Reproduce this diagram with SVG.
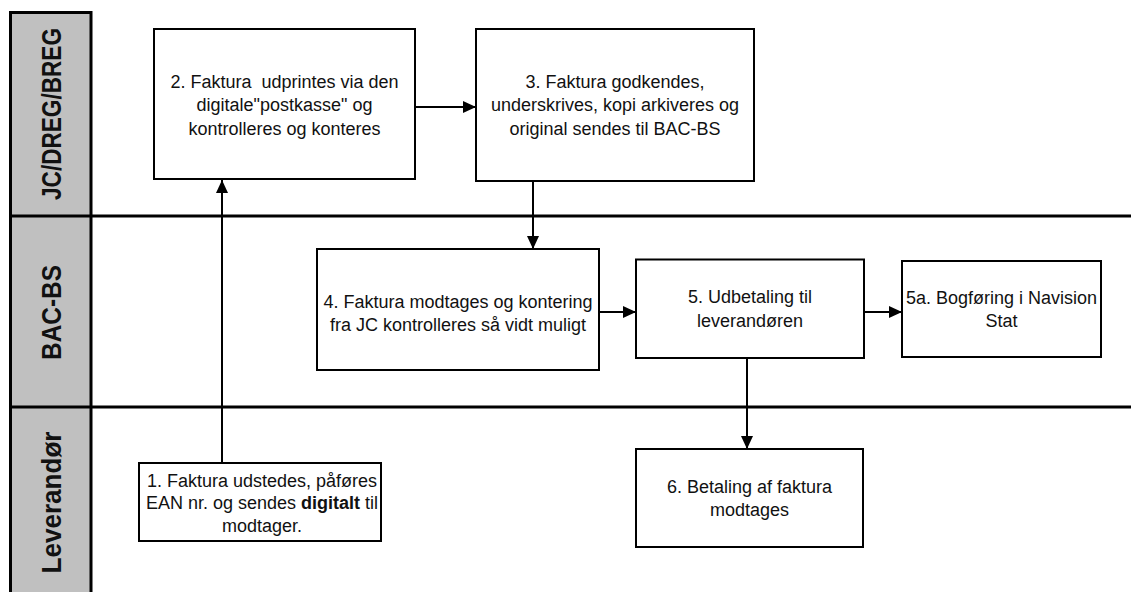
<svg xmlns="http://www.w3.org/2000/svg" width="1131" height="592" viewBox="0 0 1131 592">
<style>
  .box { fill: #ffffff; stroke: #000000; stroke-width: 2; }
  .t { font-family: "Liberation Sans", Arial, sans-serif; font-size: 18px; fill: #111111; text-anchor: middle; }
  .lane { font-family: "Liberation Sans", Arial, sans-serif; font-size: 28px; font-weight: bold; fill: #111111; text-anchor: middle; }
  .conn { stroke: #000000; stroke-width: 2; fill: none; marker-end: url(#arrow); }
  .div { stroke: #000000; stroke-width: 3; fill: none; }
</style>
<defs>
  <marker id="arrow" markerUnits="userSpaceOnUse" markerWidth="13" markerHeight="12" refX="13" refY="6" orient="auto">
    <path d="M0,0 L13,6 L0,12 z" fill="#000000"/>
  </marker>
</defs>
<rect width="1131" height="592" fill="#ffffff"/>

<g id="lanes">
  <rect x="10.5" y="12.5" width="80.5" height="585" fill="#c0c0c0" stroke="#000000" stroke-width="3"/>
  <line class="div" x1="9" y1="216" x2="1131" y2="216"/>
  <line class="div" x1="9" y1="407" x2="1131" y2="407"/>
  <text class="lane" transform="translate(60.5,114) rotate(-90) scale(0.807,1)">JC/DREG/BREG</text>
  <text class="lane" transform="translate(60.5,312.5) rotate(-90) scale(0.872,1)">BAC-BS</text>
  <text class="lane" transform="translate(60.5,502.5) rotate(-90) scale(0.931,1)">Leverandør</text>
</g>

<g id="connectors">
  <line class="conn" x1="222" y1="463" x2="222" y2="180"/>
  <line class="conn" x1="415" y1="107" x2="476" y2="107"/>
  <line class="conn" x1="533" y1="181" x2="533" y2="249"/>
  <line class="conn" x1="599" y1="312" x2="636" y2="312"/>
  <line class="conn" x1="864" y1="312" x2="902" y2="312"/>
  <line class="conn" x1="747" y1="358" x2="747" y2="449"/>
</g>

<g id="node1">
  <rect class="box" x="139" y="463" width="242" height="78"/>
  <text class="t" x="262" y="486.5">1. Faktura udstedes, påføres</text>
  <text class="t" x="262" y="509">EAN nr. og sendes <tspan font-weight="bold">digitalt</tspan> til</text>
  <text class="t" x="262" y="531.5">modtager.</text>
</g>

<g id="node2">
  <rect class="box" x="154" y="29" width="261" height="150"/>
  <text class="t" x="284.5" y="87.5" xml:space="preserve">2. Faktura  udprintes via den</text>
  <text class="t" x="284.5" y="111">digitale"postkasse" og</text>
  <text class="t" x="284.5" y="134.5">kontrolleres og konteres</text>
</g>

<g id="node3">
  <rect class="box" x="476" y="29" width="278" height="152"/>
  <text class="t" x="615" y="87.5">3. Faktura godkendes,</text>
  <text class="t" x="615" y="111">underskrives, kopi arkiveres og</text>
  <text class="t" x="615" y="134.5">original sendes til BAC-BS</text>
</g>

<g id="node4">
  <rect class="box" x="317" y="249" width="282" height="121"/>
  <text class="t" x="458" y="307.5">4. Faktura modtages og kontering</text>
  <text class="t" x="458" y="331">fra JC kontrolleres så vidt muligt</text>
</g>

<g id="node5">
  <rect class="box" x="636" y="259.5" width="228" height="98.5"/>
  <text class="t" x="750" y="303">5. Udbetaling til</text>
  <text class="t" x="750" y="326.5">leverandøren</text>
</g>

<g id="node5a">
  <rect class="box" x="902" y="261" width="199" height="96"/>
  <text class="t" x="1001.5" y="304">5a. Bogføring i Navision</text>
  <text class="t" x="1001.5" y="326.5">Stat</text>
</g>

<g id="node6">
  <rect class="box" x="636" y="449" width="227" height="98"/>
  <text class="t" x="749.5" y="492.5">6. Betaling af faktura</text>
  <text class="t" x="749.5" y="516">modtages</text>
</g>
</svg>
